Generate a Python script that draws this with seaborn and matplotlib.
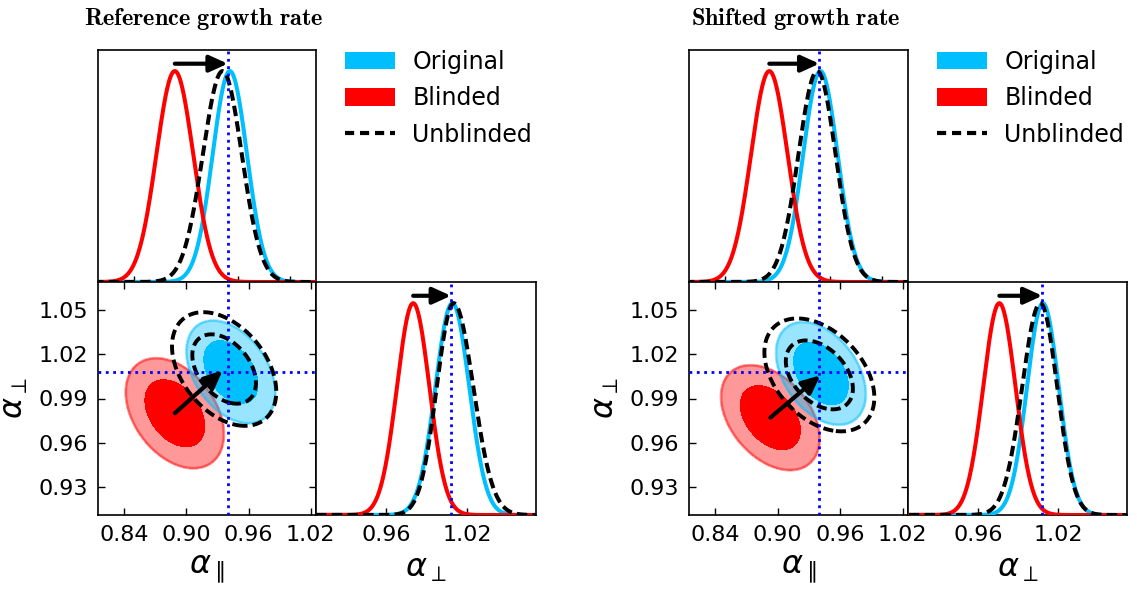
import numpy as np
import pandas as pd
import matplotlib
matplotlib.use("Agg")
import matplotlib.pyplot as plt
import seaborn as sns
from matplotlib.patches import Patch
from matplotlib.lines import Line2D

# ---------------- data ----------------
panel_titles = ["Reference growth rate", "Shifted growth rate"]
series_names = ["Original", "Blinded", "Unblinded"]

# fiducial values (dotted lines)
ref_apar = [0.940, 0.940]
ref_aperp = [1.008, 1.008]

# 1D alpha_parallel marginals: peak, sigma-left, sigma-right  (Original, Blinded, Unblinded)
apar_peak = [[0.942, 0.889, 0.935], [0.941, 0.892, 0.938]]
apar_sigl = [[0.0165, 0.0177, 0.0190], [0.0165, 0.0175, 0.0180]]
apar_sigr = [[0.0165, 0.0177, 0.0185], [0.0165, 0.0175, 0.0175]]

# 1D alpha_perp marginals
aperp_peak = [[1.009, 0.980, 1.010], [1.0084, 0.976, 1.0065]]
aperp_sigl = [[0.0125, 0.0120, 0.0125], [0.0118, 0.0120, 0.0135]]
aperp_sigr = [[0.0125, 0.0120, 0.0145], [0.0118, 0.0120, 0.0125]]

# 2D posteriors: mean_par, mean_perp, sigma_par, sigma_perp, correlation
mu_par = [[0.943, 0.889, 0.9365], [0.9415, 0.893, 0.940]]
mu_perp = [[1.008, 0.980, 1.010], [1.007, 0.977, 1.006]]
sd_par = [[0.0172, 0.0190, 0.0202], [0.0173, 0.0190, 0.0212]]
sd_perp = [[0.0140, 0.0150, 0.0155], [0.0140, 0.0143, 0.0154]]
rho = [[-0.40, -0.38, -0.40], [-0.40, -0.40, -0.40]]

# 2D shift-arrow end points
arrow2d_end_par = [0.935, 0.941]
arrow2d_end_perp = [1.009, 1.0057]

# ticks
apar_ticks = [0.84, 0.90, 0.96, 1.02]
aperp_ticks = [0.93, 0.96, 0.99, 1.02, 1.05]
aperp_ticks_1d = [0.96, 1.02]
top_minor_ticks = [0.85, 0.95, 1.00]

# ---------------- style ----------------
sns.set_style("ticks", {"xtick.direction": "in", "ytick.direction": "in"})
plt.rcParams["font.family"] = ["DejaVu Sans"]
plt.rcParams["mathtext.fontset"] = "dejavusans"
for k in ["text.color", "axes.labelcolor", "xtick.color", "ytick.color",
          "xtick.labelcolor", "ytick.labelcolor"]:
    plt.rcParams[k] = "black"

BLUE = "#00BFFF"
RED = "#FF0000"
LW = 2.9
DASH = (2.6, 1.3)

apar_lim = (0.815, 1.025)
aperp_lim = (0.911, 1.069)
aperp_lim_1d = (0.908, 1.071)

fig = plt.figure(figsize=(11.37, 5.90), dpi=100)
W, H = 1137.0, 590.0

def ax_at(x0, y0, x1, y1):
    return fig.add_axes([x0 / W, 1 - y1 / H, (x1 - x0) / W, (y1 - y0) / H])

groups = [(98, 316, 536), (689, 908, 1127)]
CL = [BLUE, RED, "k"]
ARROW = dict(arrowstyle="-|>,head_length=0.55,head_width=0.25", color="k",
             lw=3, mutation_scale=20, shrinkA=0, shrinkB=0)


def split_normal(x, m, sl, sr):
    s = np.where(x < m, sl, sr)
    return np.exp(-0.5 * ((x - m) / s) ** 2)


def style_spines(ax):
    for sp in ax.spines.values():
        sp.set_visible(True)
        sp.set_linewidth(1.2)
        sp.set_color("k")
    ax.tick_params(length=5, width=1.0, labelsize=16, pad=7, color="k",
                   labelcolor="k")


xg = np.linspace(0.78, 1.08, 600)

for p in range(2):
    c0, c1, c2 = groups[p]
    ax_top = ax_at(c0, 50, c1, 282)
    ax_2d = ax_at(c0, 282, c1, 515)
    ax_r = ax_at(c1, 282, c2, 515)
    for a in (ax_top, ax_2d, ax_r):
        style_spines(a)

    # ---- top: alpha_par 1D ----
    for i in range(3):
        y = split_normal(xg, apar_peak[p][i], apar_sigl[p][i], apar_sigr[p][i])
        df = pd.DataFrame({"x": xg, "y": y})
        sns.lineplot(data=df, x="x", y="y", ax=ax_top, color=CL[i], lw=LW,
                     estimator=None, sort=False, zorder=3 + i)
        if i == 2:
            ax_top.lines[-1].set_dashes(DASH)
    ax_top.axvline(ref_apar[p], color="b", ls=":", lw=2, zorder=6)
    ax_top.annotate("", xy=(ref_apar[p], 1.035), xytext=(apar_peak[p][1], 1.035),
                    arrowprops=ARROW, zorder=7)
    ax_top.set_xlim(apar_lim)
    ax_top.set_ylim(0, 1.1)
    ax_top.set_yticks([])
    ax_top.set_xticks(top_minor_ticks)
    ax_top.tick_params(axis="x", labelbottom=False, length=4)
    ax_top.set_xlabel("")
    ax_top.set_ylabel("")

    # ---- 2D ----
    gx = np.linspace(0.78, 1.06, 400)
    gy = np.linspace(0.88, 1.10, 400)
    X, Y = np.meshgrid(gx, gy)

    def chi2(i):
        dx = (X - mu_par[p][i]) / sd_par[p][i]
        dy = (Y - mu_perp[p][i]) / sd_perp[p][i]
        r = rho[p][i]
        return (dx ** 2 - 2 * r * dx * dy + dy ** 2) / (1 - r ** 2)

    levels = [0, 2.30, 6.18]
    # Blinded (red)
    ax_2d.contourf(X, Y, chi2(1), levels=levels,
                   colors=[(1, 0, 0, 1.0), (1, 0, 0, 0.4)], zorder=2)
    ax_2d.contour(X, Y, chi2(1), levels=[6.18], colors=[(1, 0, 0, 0.45)],
                  linewidths=2, zorder=2)
    # Original (blue)
    b = (0, 191 / 255, 1)
    ax_2d.contourf(X, Y, chi2(0), levels=levels,
                   colors=[b + (1.0,), b + (0.4,)], zorder=3)
    ax_2d.contour(X, Y, chi2(0), levels=[6.18], colors=[b + (0.45,)],
                  linewidths=2, zorder=3)
    # Unblinded (black dashed)
    cs = ax_2d.contour(X, Y, chi2(2), levels=[2.30, 6.18], colors="k",
                       linewidths=2.8, zorder=4)
    cs.set_linestyle((0, DASH))
    ax_2d.axvline(ref_apar[p], color="b", ls=":", lw=2, zorder=5)
    ax_2d.axhline(ref_aperp[p], color="b", ls=":", lw=2, zorder=5)
    ax_2d.annotate("", xy=(arrow2d_end_par[p], arrow2d_end_perp[p]),
                   xytext=(mu_par[p][1], mu_perp[p][1]),
                   arrowprops=ARROW, zorder=7)
    ax_2d.set_xlim(apar_lim)
    ax_2d.set_ylim(aperp_lim)
    ax_2d.set_xticks(apar_ticks)
    ax_2d.set_xticklabels([f"{t:.2f}" for t in apar_ticks])
    ax_2d.set_yticks(aperp_ticks)
    ax_2d.set_yticklabels([f"{t:.2f}" for t in aperp_ticks])
    ax_2d.tick_params(top=True, right=True)
    ax_2d.set_xlabel(r"$\alpha_{\parallel}$", fontsize=23, labelpad=6)
    ax_2d.set_ylabel(r"$\alpha_{\perp}$", fontsize=23, labelpad=6)

    # ---- right: alpha_perp 1D ----
    for i in range(3):
        y = split_normal(xg, aperp_peak[p][i], aperp_sigl[p][i], aperp_sigr[p][i])
        df = pd.DataFrame({"x": xg, "y": y})
        sns.lineplot(data=df, x="x", y="y", ax=ax_r, color=CL[i], lw=LW,
                     estimator=None, sort=False, zorder=3 + i)
        if i == 2:
            ax_r.lines[-1].set_dashes(DASH)
    ax_r.axvline(ref_aperp[p], color="b", ls=":", lw=2, zorder=6)
    ax_r.annotate("", xy=(ref_aperp[p], 1.035), xytext=(aperp_peak[p][1], 1.035),
                  arrowprops=ARROW, zorder=7)
    ax_r.set_xlim(aperp_lim_1d)
    ax_r.set_ylim(0, 1.1)
    ax_r.set_yticks([])
    ax_r.set_xticks(aperp_ticks_1d)
    ax_r.set_xticklabels([f"{t:.2f}" for t in aperp_ticks_1d])
    ax_r.set_ylabel("")
    ax_r.set_xlabel(r"$\alpha_{\perp}$", fontsize=23, labelpad=6)

    # ---- title ----
    title_tex = r"$\mathbf{" + panel_titles[p].replace(" ", r"\ ") + "}$"
    fig.text((c0 + c1) / 2 / W - 3 / W, 1 - 19 / H, title_tex,
             fontsize=17.5, ha="center", va="center", math_fontfamily="cm")

    # ---- legend ----
    handles = [Patch(facecolor=BLUE, edgecolor="none"),
               Patch(facecolor=RED, edgecolor="none"),
               Line2D([], [], color="k", lw=3, dashes=(2.2, 1.4))]
    fig.legend(handles, series_names, loc="upper left",
               bbox_to_anchor=((c1 + 29) / W, 1 - 50 / H), frameon=False,
               fontsize=17, handlelength=2.1, handleheight=0.75,
               handletextpad=0.75, labelspacing=0.52, borderpad=0,
               borderaxespad=0)

fig.savefig("out.png", dpi=100)
